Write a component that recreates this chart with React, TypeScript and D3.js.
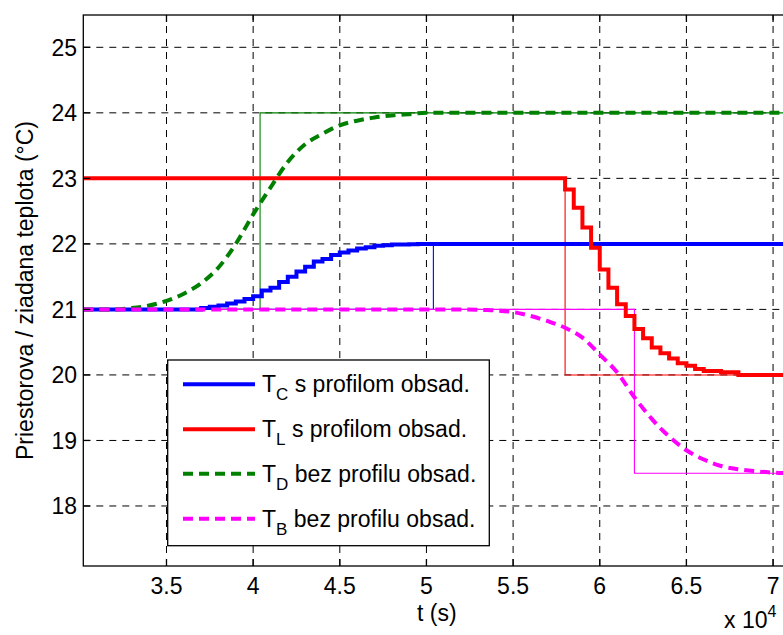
import React from "react";
import * as d3 from "d3";

// time axis is in units of 10^4 s
const xTicks = [3.5, 4, 4.5, 5, 5.5, 6, 6.5, 7];
const xTickLabels = ["3.5", "4", "4.5", "5", "5.5", "6", "6.5", "7"];
const yTicks = [18, 19, 20, 21, 22, 23, 24, 25];
const yTickLabels = ["18", "19", "20", "21", "22", "23", "24", "25"];

// T_C with occupancy profile (staircase)
const tC = [3.02, 3.70, 3.75, 3.80, 3.85, 3.90, 3.95, 4.00, 4.05, 4.10, 4.15, 4.20, 4.25, 4.30, 4.35, 4.40, 4.45, 4.50, 4.55, 4.60, 4.65, 4.70, 4.75, 4.80, 4.85, 4.90, 4.95, 7.10];
const vC = [21.00, 21.02, 21.04, 21.06, 21.09, 21.12, 21.16, 21.20, 21.29, 21.33, 21.42, 21.50, 21.58, 21.65, 21.73, 21.77, 21.83, 21.87, 21.90, 21.93, 21.95, 21.97, 21.98, 21.99, 21.99, 21.995, 22.00, 22.00];

// T_L with occupancy profile (staircase)
const tL = [3.02, 5.80, 5.85, 5.90, 5.95, 6.00, 6.05, 6.10, 6.15, 6.20, 6.25, 6.30, 6.35, 6.40, 6.45, 6.50, 6.55, 6.60, 6.70, 6.80, 7.10];
const vL = [23.00, 22.83, 22.55, 22.25, 21.94, 21.61, 21.33, 21.08, 20.90, 20.70, 20.56, 20.42, 20.33, 20.25, 20.18, 20.14, 20.09, 20.06, 20.04, 20.00, 20.00];

// T_D without occupancy profile
const tD = [3.02, 3.20, 3.30, 3.40, 3.50, 3.60, 3.70, 3.80, 3.90, 4.00, 4.10, 4.20, 4.30, 4.40, 4.50, 4.60, 4.70, 4.80, 4.90, 5.00, 7.10];
const vD = [21.00, 21.00, 21.02, 21.06, 21.13, 21.24, 21.40, 21.64, 22.00, 22.45, 22.86, 23.25, 23.52, 23.68, 23.81, 23.88, 23.93, 23.96, 23.98, 24.00, 24.00];

// T_B without occupancy profile
const tB = [3.02, 5.20, 5.35, 5.50, 5.60, 5.70, 5.80, 5.90, 6.00, 6.10, 6.20, 6.30, 6.40, 6.50, 6.60, 6.70, 6.80, 6.90, 7.00, 7.10];
const vB = [21.00, 21.00, 20.99, 20.96, 20.90, 20.82, 20.72, 20.57, 20.31, 20.04, 19.66, 19.33, 19.06, 18.85, 18.71, 18.61, 18.56, 18.53, 18.51, 18.50];

// set-points (thin step lines)
const tCsp = [3.02, 5.04, 7.10];
const vCsp = [21, 22, 22];
const tLsp = [3.02, 5.80, 7.10];
const vLsp = [23, 20, 20];
const tDsp = [3.02, 4.04, 7.10];
const vDsp = [21, 24, 24];
const tBsp = [3.02, 6.20, 7.10];
const vBsp = [21, 18.5, 18.5];

const legendSubs = ["C", "L", "D", "B"];
const legendTexts = [" s profilom obsad.", " s profilom obsad.", " bez profilu obsad.", " bez profilu obsad."];

const W = 783;
const H = 635;
const X0 = 83.3;
const X1 = 790.4;
const Y0 = 15;
const Y1 = 566;
const FONT = "'Liberation Sans', Arial, Helvetica, sans-serif";
const FS = 23;

const BLUE = "#0000ff";
const RED = "#ff0000";
const GREEN = "#008000";
const MAGENTA = "#ff00ff";

export default function App() {
  const x = d3.scaleLinear().domain([3.02, 7.1]).range([X0, X1]);
  const y = d3.scaleLinear().domain([17.084, 25.493]).range([Y1, Y0]);

  const zip = (t: number[], v: number[]) => t.map((ti, i) => [ti, v[i]] as [number, number]);
  const step = d3.line<[number, number]>().x((d) => x(d[0])).y((d) => y(d[1])).curve(d3.curveStepAfter);
  const smooth = d3.line<[number, number]>().x((d) => x(d[0])).y((d) => y(d[1])).curve(d3.curveMonotoneX);

  const setpoints = [
    { d: step(zip(tCsp, vCsp)), c: BLUE },
    { d: step(zip(tLsp, vLsp)), c: RED },
    { d: step(zip(tDsp, vDsp)), c: GREEN },
    { d: step(zip(tBsp, vBsp)), c: MAGENTA },
  ];

  const series = [
    { d: step(zip(tC, vC)), c: BLUE, dash: undefined as string | undefined },
    { d: step(zip(tL, vL)), c: RED, dash: undefined },
    { d: smooth(zip(tD, vD)), c: GREEN, dash: "10,6" },
    { d: smooth(zip(tB, vB)), c: MAGENTA, dash: "10,6" },
  ];

  const legendRows = [384.3, 429.3, 473.7, 518.7];

  return (
    <div style={{ position: "absolute", left: 0, top: 0 }}>
      <svg width={W} height={H} style={{ display: "block", background: "#fff" }}>
        <defs>
          <clipPath id="plotClip">
            <rect x={X0} y={Y0} width={X1 - X0} height={Y1 - Y0} />
          </clipPath>
        </defs>
        <rect x={0} y={0} width={W} height={H} fill="#fff" />

        {/* grid */}
        <g stroke="#000" strokeWidth={1} strokeDasharray="7,6" fill="none">
          {xTicks.map((t) => (
            <line key={"gx" + t} x1={x(t)} x2={x(t)} y1={Y1} y2={Y0} />
          ))}
          {yTicks.map((t) => (
            <line key={"gy" + t} x1={X0} x2={X1} y1={y(t)} y2={y(t)} />
          ))}
        </g>

        <g clipPath="url(#plotClip)" fill="none">
          {setpoints.map((s, i) => (
            <path key={"sp" + i} d={s.d || ""} stroke={s.c} strokeWidth={1.1} />
          ))}
          {series.map((s, i) => (
            <path
              key={"s" + i}
              d={s.d || ""}
              stroke={s.c}
              strokeWidth={4}
              strokeDasharray={s.dash}
              strokeLinejoin="miter"
            />
          ))}
        </g>

        {/* axes box */}
        <g stroke="#000" strokeWidth={1.3} fill="none">
          <rect x={X0} y={Y0} width={X1 - X0} height={Y1 - Y0} />
          {xTicks.map((t) => (
            <g key={"tx" + t}>
              <line x1={x(t)} x2={x(t)} y1={Y1} y2={Y1 - 7} />
              <line x1={x(t)} x2={x(t)} y1={Y0} y2={Y0 + 7} />
            </g>
          ))}
          {yTicks.map((t) => (
            <g key={"ty" + t}>
              <line x1={X0} x2={X0 + 7} y1={y(t)} y2={y(t)} />
              <line x1={X1} x2={X1 - 7} y1={y(t)} y2={y(t)} />
            </g>
          ))}
        </g>

        {/* tick labels */}
        <g fontFamily={FONT} fontSize={FS} fill="#000">
          {xTicks.map((t, i) => (
            <text key={"lx" + t} x={x(t)} y={594} textAnchor="middle">
              {xTickLabels[i]}
            </text>
          ))}
          {yTicks.map((t, i) => (
            <text key={"ly" + t} x={77} y={y(t)} dy="0.36em" textAnchor="end">
              {yTickLabels[i]}
            </text>
          ))}
          <text x={(X0 + X1) / 2} y={621} textAnchor="middle">t (s)</text>
          <text x={724} y={628}>
            x 10
            <tspan fontSize={16} dy={-11}>4</tspan>
          </text>
          <text
            transform={`translate(33, ${(Y0 + Y1) / 2}) rotate(-90)`}
            textAnchor="middle"
          >
            Priestorova / ziadana teplota (°C)
          </text>
        </g>

        {/* legend */}
        <g>
          <rect x={167.7} y={360} width={321.6} height={185.7} fill="#fff" stroke="#000" strokeWidth={1.3} />
          {series.map((s, i) => (
            <g key={"lg" + i}>
              <line
                x1={183}
                x2={255}
                y1={legendRows[i]}
                y2={legendRows[i]}
                stroke={s.c}
                strokeWidth={4}
                strokeDasharray={s.dash}
              />
              <text x={262} y={legendRows[i] + 8} fontFamily={FONT} fontSize={FS} fill="#000">
                T
                <tspan fontSize={17} dy={8}>{legendSubs[i]}</tspan>
                <tspan dy={-8}>{legendTexts[i]}</tspan>
              </text>
            </g>
          ))}
        </g>
      </svg>
    </div>
  );
}
